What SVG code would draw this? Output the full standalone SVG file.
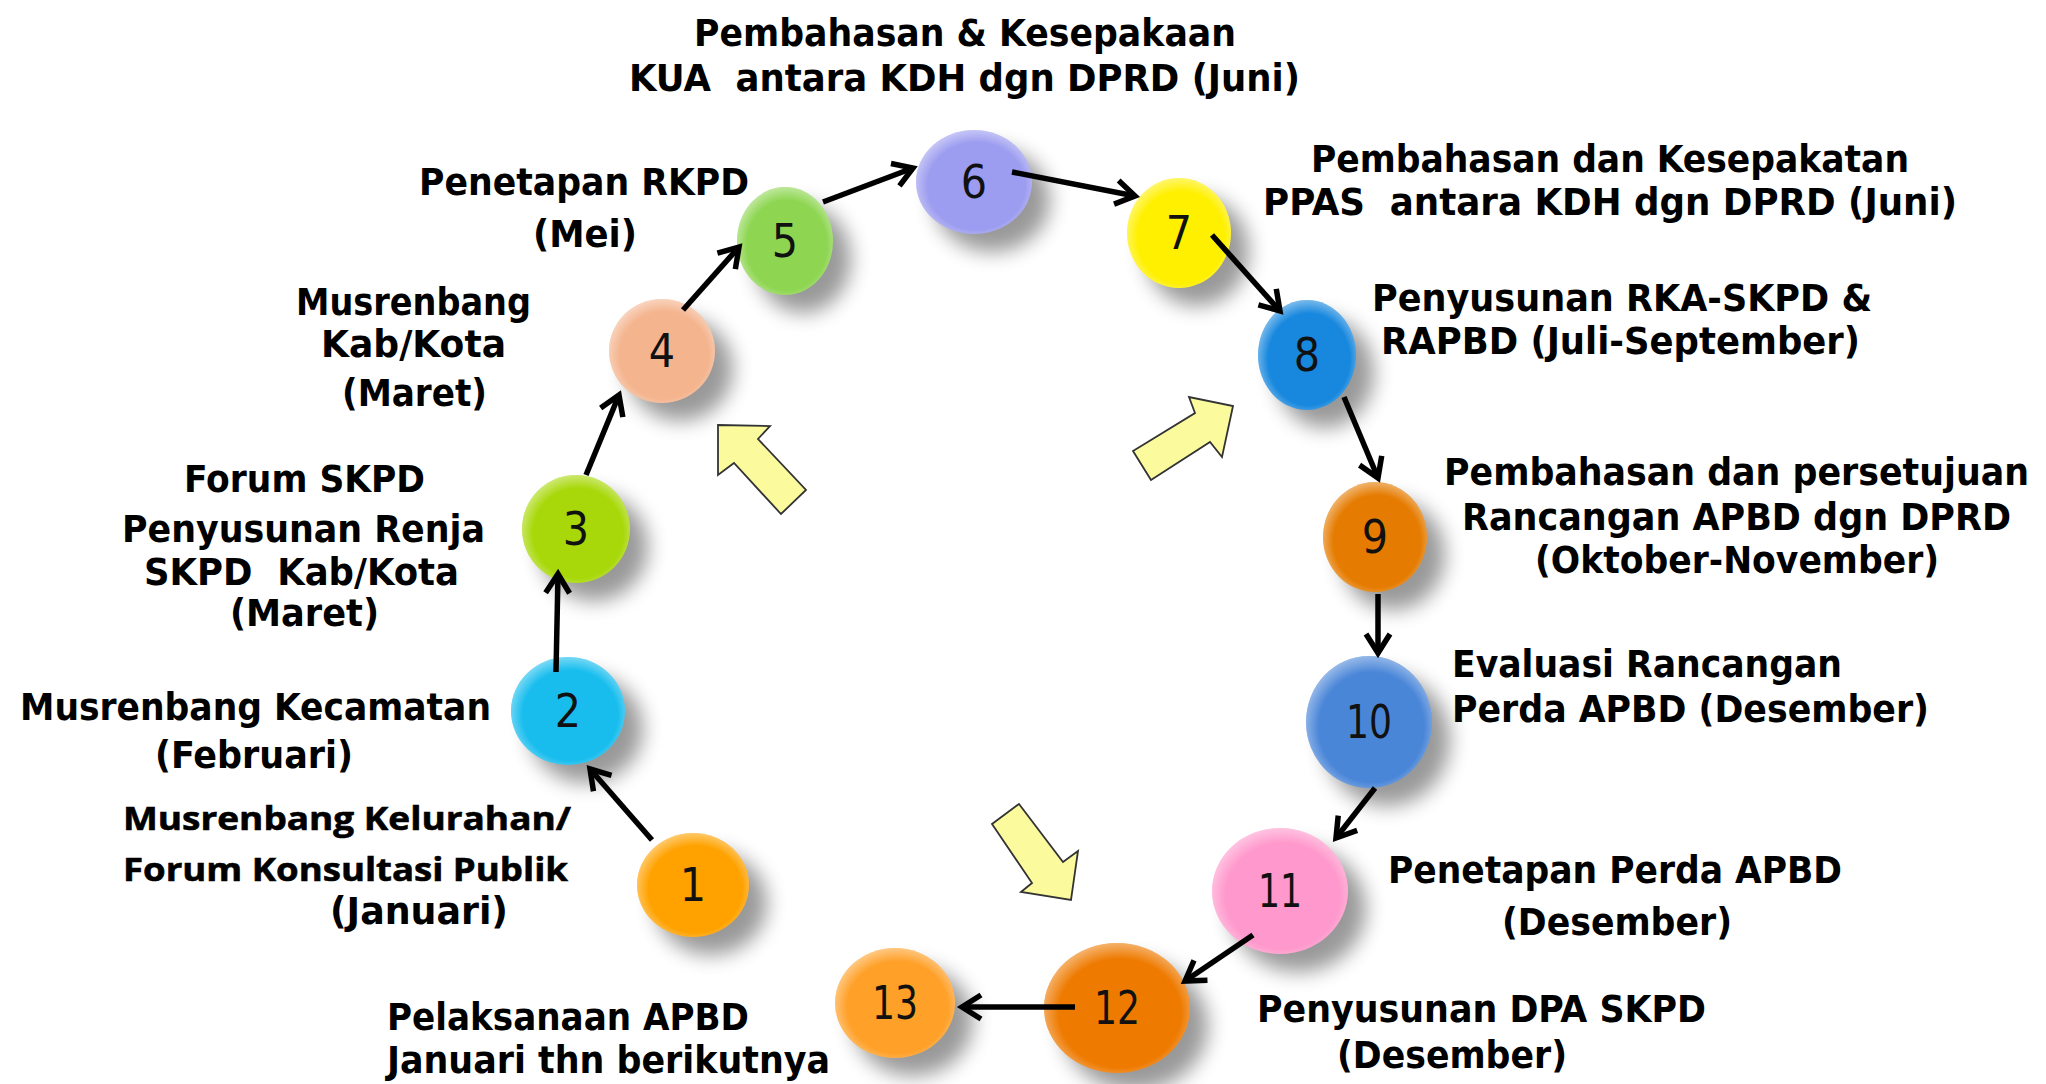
<svg xmlns="http://www.w3.org/2000/svg" width="2046" height="1084" viewBox="0 0 2046 1084">
<defs>
<style>
.lbl{font-family:"DejaVu Sans Condensed","DejaVu Sans",sans-serif;font-weight:bold;font-size:37px;fill:#000;white-space:pre}
.lbl2{font-family:"Open Sans","Lato",sans-serif;font-weight:bold;font-size:33px;fill:#000;stroke:#000;stroke-width:0.6;white-space:pre}
.num{font-family:"DejaVu Sans Condensed","DejaVu Sans",sans-serif;font-size:46px;fill:#111;text-anchor:middle}
.conn{stroke:#000;stroke-width:5.5;fill:none;marker-end:url(#ah)}
.yarrow{fill:#FBFB9E;stroke:#333;stroke-width:1.8;stroke-linejoin:miter}
.shadow{fill:#000;opacity:0.4;filter:url(#blur)}
.rim{fill:url(#rim)}
</style>
<filter id="blur" x="-50%" y="-50%" width="200%" height="200%"><feGaussianBlur stdDeviation="10"/></filter>
<radialGradient id="rim" cx="0.52" cy="0.54" r="0.58">
<stop offset="0.72" stop-color="#fff" stop-opacity="0"/>
<stop offset="1" stop-color="#fff" stop-opacity="0.55"/>
</radialGradient>
<marker id="ah" viewBox="0 0 30 30" refX="24" refY="15" markerWidth="30" markerHeight="30" orient="auto" markerUnits="userSpaceOnUse">
<path d="M5,3 L24,15 L5,27" fill="none" stroke="#000" stroke-width="5.5"/>
</marker>
</defs>
<rect width="2046" height="1084" fill="#fff"/>

<g id="shadows">
<ellipse class="shadow" cx="711" cy="903" rx="56" ry="52"/>
<ellipse class="shadow" cx="586" cy="729" rx="57" ry="54"/>
<ellipse class="shadow" cx="594" cy="547" rx="54" ry="54"/>
<ellipse class="shadow" cx="680" cy="369" rx="53" ry="52"/>
<ellipse class="shadow" cx="803" cy="259" rx="48" ry="54"/>
<ellipse class="shadow" cx="992" cy="200" rx="58" ry="52"/>
<ellipse class="shadow" cx="1197" cy="251" rx="52" ry="55"/>
<ellipse class="shadow" cx="1325" cy="373" rx="49" ry="55"/>
<ellipse class="shadow" cx="1393" cy="555" rx="52" ry="55"/>
<ellipse class="shadow" cx="1387" cy="740" rx="63" ry="66"/>
<ellipse class="shadow" cx="1298" cy="909" rx="68" ry="63"/>
<ellipse class="shadow" cx="1135" cy="1026" rx="73" ry="65"/>
<ellipse class="shadow" cx="913" cy="1021" rx="60" ry="55"/>
</g>

<g id="arrows-yellow">
<polygon class="yarrow" points="718,425 770,426 758,439 806,490 781,514 734,463 718,475"/>
<polygon class="yarrow" points="1233,406 1222,457 1210,442 1151,480 1133,451 1195,413 1189,397"/>
<polygon class="yarrow" points="1019,804 1063,862 1078,851 1071,900 1021,892 1032,883 992,824"/>
</g>

<g id="node1"><ellipse cx="693" cy="885" rx="56" ry="52" fill="#FFA200"/><ellipse class="rim" cx="693" cy="885" rx="56" ry="52"/><text class="num" x="693" y="901">1</text></g>
<g id="node2"><ellipse cx="568" cy="711" rx="57" ry="54" fill="#18BDEE"/><ellipse class="rim" cx="568" cy="711" rx="57" ry="54"/><text class="num" x="568" y="727">2</text></g>
<g id="node3"><ellipse cx="576" cy="529" rx="54" ry="54" fill="#A8D80A"/><ellipse class="rim" cx="576" cy="529" rx="54" ry="54"/><text class="num" x="576" y="545">3</text></g>
<g id="node4"><ellipse cx="662" cy="351" rx="53" ry="52" fill="#F4B48E"/><ellipse class="rim" cx="662" cy="351" rx="53" ry="52"/><text class="num" x="662" y="367">4</text></g>
<g id="node5"><ellipse cx="785" cy="241" rx="48" ry="54" fill="#8ED652"/><ellipse class="rim" cx="785" cy="241" rx="48" ry="54"/><text class="num" x="785" y="257">5</text></g>
<g id="node6"><ellipse cx="974" cy="182" rx="58" ry="52" fill="#9C9CF0"/><ellipse class="rim" cx="974" cy="182" rx="58" ry="52"/><text class="num" x="974" y="198">6</text></g>
<g id="node7"><ellipse cx="1179" cy="233" rx="52" ry="55" fill="#FFF000"/><ellipse class="rim" cx="1179" cy="233" rx="52" ry="55"/><text class="num" x="1179" y="249">7</text></g>
<g id="node8"><ellipse cx="1307" cy="355" rx="49" ry="55" fill="#1888DE"/><ellipse class="rim" cx="1307" cy="355" rx="49" ry="55"/><text class="num" x="1307" y="371">8</text></g>
<g id="node9"><ellipse cx="1375" cy="537" rx="52" ry="55" fill="#E57B00"/><ellipse class="rim" cx="1375" cy="537" rx="52" ry="55"/><text class="num" x="1375" y="553">9</text></g>
<g id="node10"><ellipse cx="1369" cy="722" rx="63" ry="66" fill="#4A86D8"/><ellipse class="rim" cx="1369" cy="722" rx="63" ry="66"/><text class="num" x="1369" y="738" textLength="46" lengthAdjust="spacingAndGlyphs">10</text></g>
<g id="node11"><ellipse cx="1280" cy="891" rx="68" ry="63" fill="#FF98CC"/><ellipse class="rim" cx="1280" cy="891" rx="68" ry="63"/><text class="num" x="1280" y="907" textLength="44" lengthAdjust="spacingAndGlyphs">11</text></g>
<g id="node12"><ellipse cx="1117" cy="1008" rx="73" ry="65" fill="#EE7A00"/><ellipse class="rim" cx="1117" cy="1008" rx="73" ry="65"/><text class="num" x="1117" y="1024" textLength="46" lengthAdjust="spacingAndGlyphs">12</text></g>
<g id="node13"><ellipse cx="895" cy="1003" rx="60" ry="55" fill="#FFA028"/><ellipse class="rim" cx="895" cy="1003" rx="60" ry="55"/><text class="num" x="895" y="1019" textLength="46" lengthAdjust="spacingAndGlyphs">13</text></g>

<g id="connectors">
<line class="conn" x1="652" y1="840" x2="590" y2="769"/>
<line class="conn" x1="556" y1="672" x2="558" y2="574"/>
<line class="conn" x1="586" y1="475" x2="619" y2="395"/>
<line class="conn" x1="683" y1="310" x2="739" y2="247"/>
<line class="conn" x1="823" y1="202" x2="913" y2="168"/>
<line class="conn" x1="1012" y1="172" x2="1135" y2="196"/>
<line class="conn" x1="1212" y1="235" x2="1280" y2="311"/>
<line class="conn" x1="1344" y1="397" x2="1378" y2="478"/>
<line class="conn" x1="1378" y1="594" x2="1378" y2="653"/>
<line class="conn" x1="1375" y1="788" x2="1336" y2="838"/>
<line class="conn" x1="1253" y1="935" x2="1185" y2="981"/>
<line class="conn" x1="1075" y1="1007" x2="962" y2="1007"/>
</g>

<g id="labels">
<text class="lbl" x="694" y="46" textLength="542" lengthAdjust="spacingAndGlyphs">Pembahasan &amp; Kesepakaan</text>
<text class="lbl" x="629" y="91" textLength="671" lengthAdjust="spacingAndGlyphs">KUA  antara KDH dgn DPRD (Juni)</text>
<text class="lbl" x="419" y="195" textLength="330" lengthAdjust="spacingAndGlyphs">Penetapan RKPD</text>
<text class="lbl" x="533" y="247" textLength="104" lengthAdjust="spacingAndGlyphs">(Mei)</text>
<text class="lbl" x="296" y="315" textLength="235" lengthAdjust="spacingAndGlyphs">Musrenbang</text>
<text class="lbl" x="321" y="357" textLength="185" lengthAdjust="spacingAndGlyphs">Kab/Kota</text>
<text class="lbl" x="342" y="406" textLength="145" lengthAdjust="spacingAndGlyphs">(Maret)</text>
<text class="lbl" x="184" y="492" textLength="241" lengthAdjust="spacingAndGlyphs">Forum SKPD</text>
<text class="lbl" x="122" y="542" textLength="363" lengthAdjust="spacingAndGlyphs">Penyusunan Renja</text>
<text class="lbl" x="144" y="585" textLength="315" lengthAdjust="spacingAndGlyphs">SKPD  Kab/Kota</text>
<text class="lbl" x="230" y="626" textLength="149" lengthAdjust="spacingAndGlyphs">(Maret)</text>
<text class="lbl" x="20" y="720" textLength="471" lengthAdjust="spacingAndGlyphs">Musrenbang Kecamatan</text>
<text class="lbl" x="155" y="768" textLength="198" lengthAdjust="spacingAndGlyphs">(Februari)</text>
<text class="lbl2" x="123" y="830" textLength="448" lengthAdjust="spacingAndGlyphs">Musrenbang Kelurahan/</text>
<text class="lbl2" x="123" y="881" textLength="445" lengthAdjust="spacingAndGlyphs">Forum Konsultasi Publik</text>
<text class="lbl" x="330" y="924" textLength="178" lengthAdjust="spacingAndGlyphs">(Januari)</text>
<text class="lbl" x="387" y="1030" textLength="362" lengthAdjust="spacingAndGlyphs">Pelaksanaan APBD</text>
<text class="lbl" x="387" y="1073" textLength="443" lengthAdjust="spacingAndGlyphs">Januari thn berikutnya</text>
<text class="lbl" x="1311" y="172" textLength="598" lengthAdjust="spacingAndGlyphs">Pembahasan dan Kesepakatan</text>
<text class="lbl" x="1263" y="215" textLength="694" lengthAdjust="spacingAndGlyphs">PPAS  antara KDH dgn DPRD (Juni)</text>
<text class="lbl" x="1372" y="311" textLength="500" lengthAdjust="spacingAndGlyphs">Penyusunan RKA-SKPD &amp;</text>
<text class="lbl" x="1381" y="354" textLength="479" lengthAdjust="spacingAndGlyphs">RAPBD (Juli-September)</text>
<text class="lbl" x="1444" y="485" textLength="585" lengthAdjust="spacingAndGlyphs">Pembahasan dan persetujuan</text>
<text class="lbl" x="1462" y="530" textLength="549" lengthAdjust="spacingAndGlyphs">Rancangan APBD dgn DPRD</text>
<text class="lbl" x="1535" y="573" textLength="404" lengthAdjust="spacingAndGlyphs">(Oktober-November)</text>
<text class="lbl" x="1452" y="677" textLength="390" lengthAdjust="spacingAndGlyphs">Evaluasi Rancangan</text>
<text class="lbl" x="1452" y="722" textLength="477" lengthAdjust="spacingAndGlyphs">Perda APBD (Desember)</text>
<text class="lbl" x="1388" y="883" textLength="454" lengthAdjust="spacingAndGlyphs">Penetapan Perda APBD</text>
<text class="lbl" x="1502" y="935" textLength="230" lengthAdjust="spacingAndGlyphs">(Desember)</text>
<text class="lbl" x="1257" y="1022" textLength="449" lengthAdjust="spacingAndGlyphs">Penyusunan DPA SKPD</text>
<text class="lbl" x="1337" y="1068" textLength="230" lengthAdjust="spacingAndGlyphs">(Desember)</text>
</g>
</svg>
